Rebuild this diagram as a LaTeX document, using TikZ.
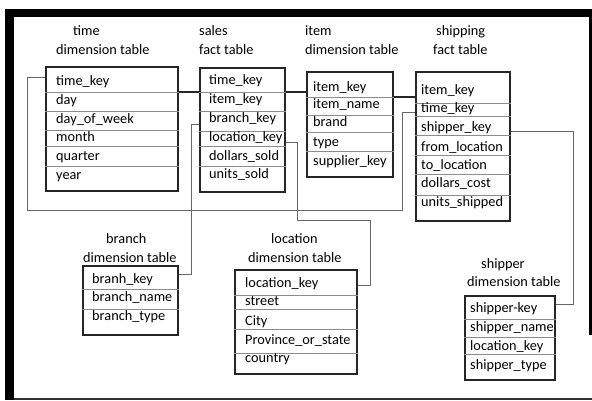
\documentclass[tikz,border=0pt]{standalone}
\usepackage{fontspec}
\setmainfont{Carlito}
\tikzset{
  tbl/.style={draw=black!85, line width=1.6pt, fill=white, inner sep=0pt,
              anchor=north west},
  sep/.style={draw=black!45, line width=0.9pt},
  link/.style={draw=black!60, line width=0.9pt},
  mainlink/.style={draw=black!85, line width=1.5pt},
  cell/.style={anchor=base west, inner sep=0pt,
               font=\fontsize{14.3}{16}\selectfont, text=black},
  ttl/.style={cell},
  frame/.style={fill=black, draw=none}
}
\begin{document}
\begin{tikzpicture}[x=1pt,y=-1pt]
\useasboundingbox (0,0) rectangle (592,400);
\fill[white] (0,0) rectangle (592,400);

% outer black frame
\fill[frame] (5,9) rectangle (592,17);
\fill[frame] (5,9) rectangle (14,400);
\fill[frame] (589,9) rectangle (592,335);
\fill[black!80] (14,397.5) rectangle (592,399.5);

% ---------- time dimension table
\node[ttl] (time-t1) at (73,35) {time};
\node[ttl] (time-t2) at (56,54) {dimension table};
\node[tbl, minimum width=132pt, minimum height=124pt] (time) at (45,66) {};
\foreach \y in {92,111,130,146,166}
  \draw[sep] (time.west |- 0,\y) -- (time.east |- 0,\y);
\node[cell] (time-r1) at (56,85) {time\_key};
\node[cell] (time-r2) at (56,104) {day};
\node[cell] (time-r3) at (56,123) {day\_of\_week};
\node[cell] (time-r4) at (56,141) {month};
\node[cell] (time-r5) at (56,160) {quarter};
\node[cell] (time-r6) at (56,179) {year};

% ---------- sales fact table
\node[ttl] (sales-t1) at (199,35) {sales};
\node[ttl] (sales-t2) at (199,54) {fact table};
\node[tbl, minimum width=85pt, minimum height=124pt] (sales) at (199,67) {};
\foreach \y in {92,111,131,146,166}
  \draw[sep] (sales.west |- 0,\y) -- (sales.east |- 0,\y);
\node[cell] (sales-r1) at (209,84) {time\_key};
\node[cell] (sales-r2) at (209,103) {item\_key};
\node[cell] (sales-r3) at (209,122) {branch\_key};
\node[cell] (sales-r4) at (209,141) {location\_key};
\node[cell] (sales-r5) at (209,160) {dollars\_sold};
\node[cell] (sales-r6) at (209,178) {units\_sold};

% ---------- item dimension table
\node[ttl] (item-t1) at (305,35) {item};
\node[ttl] (item-t2) at (305,54) {dimension table};
\node[tbl, minimum width=86pt, minimum height=105pt] (item) at (306,71) {};
\foreach \y in {97,115,132,151}
  \draw[sep] (item.west |- 0,\y) -- (item.east |- 0,\y);
\node[cell] (item-r1) at (313,91) {item\_key};
\node[cell] (item-r2) at (313,108) {item\_name};
\node[cell] (item-r3) at (313,126) {brand};
\node[cell] (item-r4) at (313,146) {type};
\node[cell] (item-r5) at (313,165) {supplier\_key};

% ---------- shipping fact table
\node[ttl] (ship-t1) at (436,35) {shipping};
\node[ttl] (ship-t2) at (433,54) {fact table};
\node[tbl, minimum width=94pt, minimum height=149pt] (ship) at (415,71) {};
\foreach \y in {103,116,135,155,174,195}
  \draw[sep] (ship.west |- 0,\y) -- (ship.east |- 0,\y);
\node[cell] (ship-r1) at (421,94) {item\_key};
\node[cell] (ship-r2) at (421,112) {time\_key};
\node[cell] (ship-r3) at (421,131) {shipper\_key};
\node[cell] (ship-r4) at (421,151) {from\_location};
\node[cell] (ship-r5) at (421,169) {to\_location};
\node[cell] (ship-r6) at (421,187) {dollars\_cost};
\node[cell] (ship-r7) at (421,206) {units\_shipped};

% ---------- branch dimension table
\node[ttl] (branch-t1) at (106,243) {branch};
\node[ttl] (branch-t2) at (83,262) {dimension table};
\node[tbl, minimum width=95pt, minimum height=69pt] (branch) at (82,265) {};
\foreach \y in {289,309}
  \draw[sep] (branch.west |- 0,\y) -- (branch.east |- 0,\y);
\node[cell] (branch-r1) at (92,283) {branh\_key};
\node[cell] (branch-r2) at (92,301) {branch\_name};
\node[cell] (branch-r3) at (92,320) {branch\_type};

% ---------- location dimension table
\node[ttl] (loc-t1) at (271,243) {location};
\node[ttl] (loc-t2) at (248,262) {dimension table};
\node[tbl, minimum width=122pt, minimum height=104pt] (loc) at (234,269) {};
\foreach \y in {295,309,329,353}
  \draw[sep] (loc.west |- 0,\y) -- (loc.east |- 0,\y);
\node[cell] (loc-r1) at (245,287) {location\_key};
\node[cell] (loc-r2) at (245,305) {street};
\node[cell] (loc-r3) at (245,325) {City};
\node[cell] (loc-r4) at (245,344) {Province\_or\_state};
\node[cell] (loc-r5) at (245,362) {country};

% ---------- shipper dimension table
\node[ttl] (shipper-t1) at (481,268) {shipper};
\node[ttl] (shipper-t2) at (467,286) {dimension table};
\node[tbl, minimum width=90pt, minimum height=84pt] (shipper) at (464,295) {};
\foreach \y in {319,337,354}
  \draw[sep] (shipper.west |- 0,\y) -- (shipper.east |- 0,\y);
\node[cell] (shipper-r1) at (470,312) {shipper-key};
\node[cell] (shipper-r2) at (470,331) {shipper\_name};
\node[cell] (shipper-r3) at (470,350) {location\_key};
\node[cell] (shipper-r4) at (470,369) {shipper\_type};

% ---------- key connectors
\coordinate (tk-a) at (27,77);
\coordinate (tk-b) at (402,210);
\coordinate (bk-a) at (191,124);
\coordinate (lk-a) at (297,142);
\coordinate (lk-b) at (370,220);
\coordinate (sk-a) at (573,131);

% time -> sales -> item -> shipping
\draw[mainlink] (time.east |- 0,92) -- (sales.west |- 0,92);
\draw[mainlink] (sales.east |- 0,92) -- (item.west |- 0,92);
\draw[mainlink] (item.east |- 0,97) -- (ship.west |- 0,97);

% time_key -> shipping time_key
\draw[link] (time.west |- tk-a) -- (tk-a) |- (tk-b) |- (ship.west |- 0,112);

% branch_key -> branch table
\draw[link] (sales.west |- bk-a) -- (bk-a) |- (branch.east |- 0,274);

% location_key -> location table
\draw[link] (sales.east |- lk-a) -- (lk-a) |- (lk-b) |- (loc.east |- 0,285);

% shipper_key -> shipper table
\draw[link] (ship.east |- sk-a) -- (sk-a) |- (shipper.east |- 0,304);
\end{tikzpicture}
\end{document}
